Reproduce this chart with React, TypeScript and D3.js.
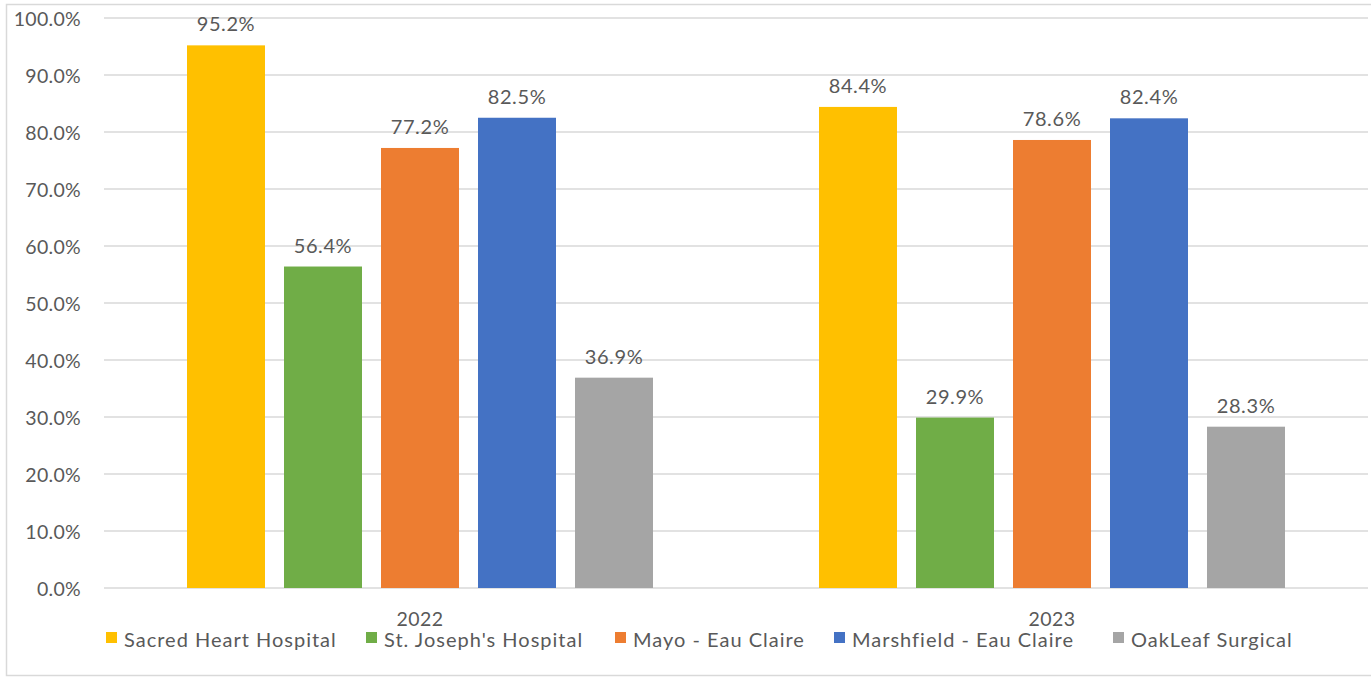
import React from "react";
import * as d3 from "d3";

const years = ["2022", "2023"];
const hospitals = [
  "Sacred Heart Hospital",
  "St. Joseph's Hospital",
  "Mayo - Eau Claire",
  "Marshfield - Eau Claire",
  "OakLeaf Surgical",
];
const colors = ["#FFC000", "#70AD47", "#ED7D31", "#4472C4", "#A5A5A5"];
const values2022 = [95.2, 56.4, 77.2, 82.5, 36.9];
const values2023 = [84.4, 29.9, 78.6, 82.4, 28.3];
const yTicks = [0, 10, 20, 30, 40, 50, 60, 70, 80, 90, 100];
const legendX = [106, 366, 615, 834, 1113];

const W = 1371;
const H = 677;
const FONT = "Lato, 'Open Sans', sans-serif";
const TXT = "#595959";

export default function App() {
  const seriesByYear = [values2022, values2023];
  const x0 = d3.scaleBand().domain(years).range([104, 1368]).paddingInner(0).paddingOuter(0);
  const groupW = 466;
  const x1 = d3
    .scaleBand()
    .domain(hospitals)
    .range([0, groupW])
    .paddingInner(0.196)
    .paddingOuter(0);
  const y = d3.scaleLinear().domain([0, 100]).range([588, 18]);

  return (
    <div style={{ position: "fixed", left: 0, top: 0 }}>
      <svg width={W} height={H} style={{ display: "block", background: "#fff" }}>
        <rect x={6.5} y={4.5} width={W} height={671} fill="#fff" stroke="#D9D9D9" strokeWidth={1.5} />
        {yTicks.map((t) => (
          <g key={t}>
            <line x1={104} x2={1368} y1={y(t)} y2={y(t)} stroke="#D9D9D9" strokeWidth={1.5} />
            <text
              x={81}
              y={y(t)}
              textAnchor="end"
              dominantBaseline="central"
              fontFamily={FONT}
              fontSize={19.5}
              letterSpacing={0.3}
              fill={TXT}
            >
              {t.toFixed(1) + "%"}
            </text>
          </g>
        ))}
        {years.map((yr, gi) => {
          const gx = (x0(yr) as number) + (x0.bandwidth() - groupW) / 2;
          return (
            <g key={yr}>
              {hospitals.map((h, i) => {
                const v = seriesByYear[gi][i];
                const bx = gx + (x1(h) as number);
                return (
                  <g key={h}>
                    <rect x={bx} y={y(v)} width={x1.bandwidth()} height={y(0) - y(v)} fill={colors[i]} />
                    <text
                      x={bx + x1.bandwidth() / 2}
                      y={y(v) - 22}
                      textAnchor="middle"
                      dominantBaseline="central"
                      fontFamily={FONT}
                      fontSize={20}
                      letterSpacing={0.6}
                      fill={TXT}
                    >
                      {v.toFixed(1) + "%"}
                    </text>
                  </g>
                );
              })}
              <text
                x={(x0(yr) as number) + x0.bandwidth() / 2}
                y={618}
                textAnchor="middle"
                dominantBaseline="central"
                fontFamily={FONT}
                fontSize={19.5}
                letterSpacing={0.5}
                fill={TXT}
              >
                {yr}
              </text>
            </g>
          );
        })}
        {hospitals.map((h, i) => (
          <g key={h}>
            <rect x={legendX[i]} y={632} width={11} height={11} fill={colors[i]} />
            <text
              x={legendX[i] + 18}
              y={639}
              dominantBaseline="central"
              fontFamily={FONT}
              fontSize={20}
              letterSpacing={1}
              fill={TXT}
            >
              {h}
            </text>
          </g>
        ))}
      </svg>
    </div>
  );
}
